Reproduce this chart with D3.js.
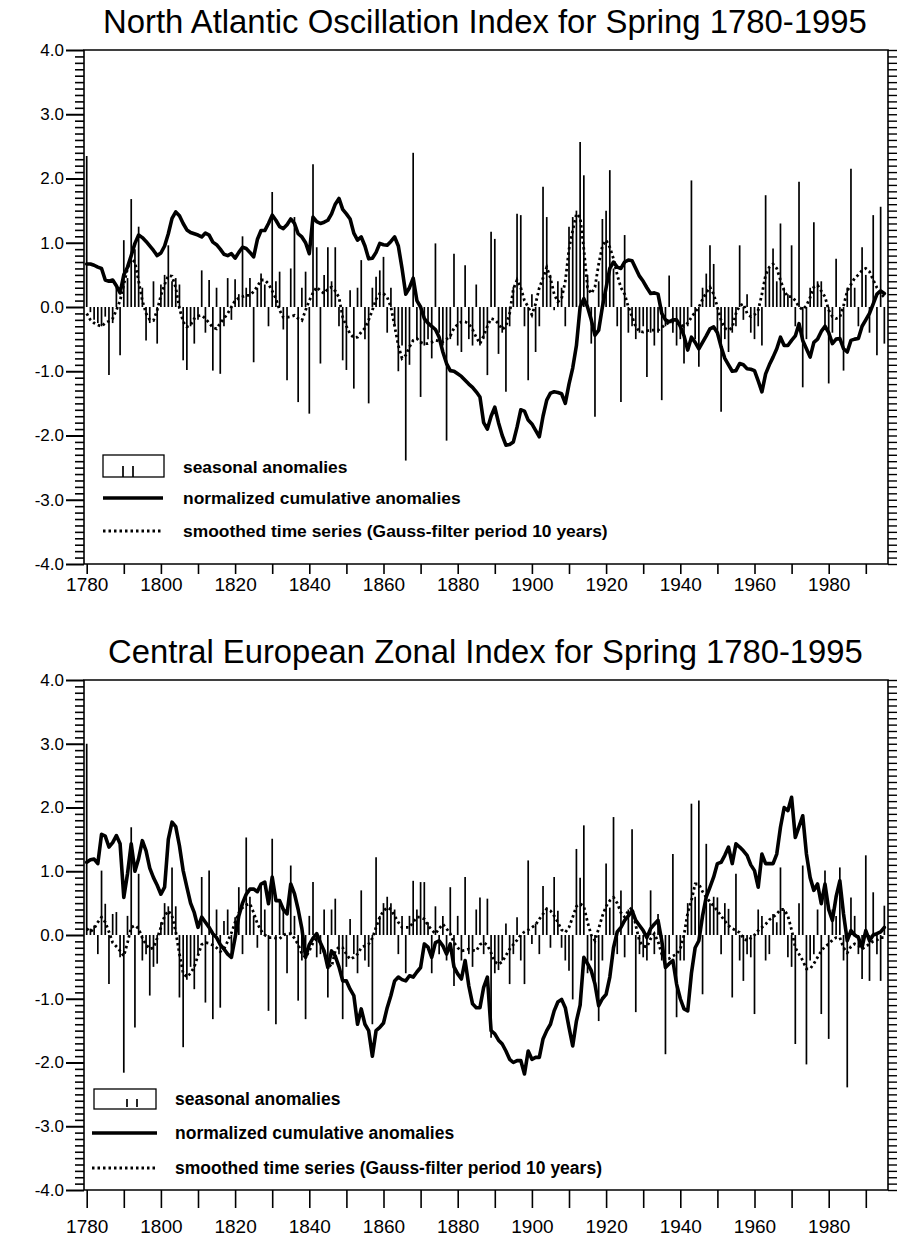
<!DOCTYPE html>
<html><head><meta charset="utf-8">
<script src="https://cdn.jsdelivr.net/npm/d3@7"></script>
<style>
body{margin:0;background:#fff}
svg{display:block}
text{font-family:"Liberation Sans",Arial,sans-serif;fill:#000}
</style>
</head><body>
<svg id="c" width="899" height="1241"></svg>
<script>
// ---------- data ----------
const firstYear = 1780;
const yTickValues = [-4,-3,-2,-1,0,1,2,3,4];
const yTickLabels = ["-4.0","-3.0","-2.0","-1.0","0.0","1.0","2.0","3.0","4.0"];
const xTickYears = [1780,1790,1800,1810,1820,1830,1840,1850,1860,1870,1880,1890,1900,1910,1920,1930,1940,1950,1960,1970,1980,1990];
const xTickLabels = ["1780","1800","1820","1840","1860","1880","1900","1920","1940","1960","1980"];
const legendLabels = ["seasonal anomalies","normalized cumulative anomalies","smoothed time series (Gauss-filter period 10 years)"];
const titleNAO = "North Atlantic Oscillation Index for Spring 1780-1995";
const titleCEZI = "Central European Zonal Index for Spring 1780-1995";

// North Atlantic Oscillation, spring, 1780..1995
const naoAnom = [
 2.35,-0.08,-0.2,-0.25,-0.3,-0.15,-1.06,-0.25,0.3,-0.75,
 1.04,0.45,1.68,0.9,1.25,0.3,-0.52,-0.25,0.4,-0.57,
 0.35,0.5,0.96,0.4,0.45,0.35,-0.83,-0.98,-0.3,-0.57,
 -0.2,0.57,-0.4,0.42,-0.99,0.3,-1.04,-0.3,0.45,-0.2,
 0.43,0.2,1.1,0.3,0.45,-0.86,0.3,0.52,0.35,-0.3,
 1.79,0.4,0.55,-0.35,-1.14,0.6,1.4,-1.48,0.3,0.55,
 -1.66,2.22,0.93,-0.88,0.5,0.93,0.4,0.93,-0.3,-0.83,
 -0.98,0.26,-1.27,0.3,0.73,-0.5,-1.5,0.3,0.47,0.57,
 0.78,-0.4,0.3,-0.3,-1.0,-0.6,-2.39,-0.9,2.4,-0.5,
 -1.4,-0.6,-0.5,-0.8,0.99,-0.4,-0.6,-2.08,-0.5,0.83,
 -0.6,-0.7,0.65,-0.5,-0.6,0.35,-0.6,-0.5,-1.06,1.17,
 1.06,-0.73,-0.4,-1.32,-0.3,0.31,1.45,1.43,-0.3,-1.14,
 0.2,-0.7,-0.3,1.87,1.4,0.5,-0.05,0.4,0.3,-0.3,
 1.25,1.4,1.5,2.57,2.05,0.5,-0.57,-1.71,0.4,1.37,
 1.5,2.13,0.6,-0.3,-1.48,1.12,-0.4,-0.3,-0.5,-0.4,
 -0.3,-1.09,-0.4,-0.6,-0.4,-1.45,-0.3,0.49,-0.4,-0.6,
 -0.5,-0.88,-0.3,1.97,-0.5,-0.93,0.3,0.52,0.96,0.67,
 -0.4,-1.63,-0.5,-0.7,-0.4,-0.3,0.96,-0.2,0.2,-0.4,
 -0.5,-0.3,-0.6,1.74,0.6,0.91,0.4,1.3,0.3,0.2,
 0.96,-0.3,1.95,-1.25,-0.5,0.3,1.32,0.4,0.4,-0.3,
 -1.19,-0.4,0.75,-0.5,-0.99,0.3,2.15,0.3,-0.3,0.93,
 0.5,-0.4,1.43,-0.75,1.56,-0.57];
const naoCum = [
 0.67,0.67,0.65,0.62,0.6,0.42,0.4,0.42,0.33,0.22,
 0.5,0.62,0.8,0.99,1.12,1.08,1.02,0.95,0.88,0.8,
 0.84,0.95,1.14,1.38,1.48,1.42,1.3,1.2,1.16,1.14,
 1.12,1.09,1.15,1.12,1.01,0.97,0.9,0.82,0.8,0.83,
 0.76,0.85,0.93,0.91,0.85,0.78,1.05,1.19,1.19,1.3,
 1.43,1.35,1.25,1.22,1.28,1.37,1.3,1.14,1.09,1.0,
 0.83,1.4,1.33,1.3,1.32,1.35,1.45,1.6,1.69,1.52,
 1.45,1.37,1.15,1.04,1.09,0.95,0.75,0.76,0.85,0.99,
 0.97,0.96,1.02,1.09,0.95,0.6,0.2,0.3,0.45,0.1,
 0.0,-0.18,-0.25,-0.3,-0.35,-0.47,-0.7,-0.88,-0.99,-1.0,
 -1.04,-1.08,-1.14,-1.2,-1.25,-1.32,-1.4,-1.8,-1.9,-1.7,
 -1.56,-1.8,-2.0,-2.15,-2.14,-2.1,-1.87,-1.6,-1.62,-1.76,
 -1.82,-1.92,-2.02,-1.7,-1.45,-1.34,-1.32,-1.33,-1.35,-1.5,
 -1.2,-0.95,-0.6,0.0,0.13,0.0,-0.2,-0.44,-0.36,0.0,
 0.3,0.6,0.7,0.62,0.6,0.7,0.73,0.72,0.6,0.48,
 0.4,0.3,0.21,0.22,0.2,-0.1,-0.2,-0.23,-0.2,-0.2,
 -0.3,-0.45,-0.67,-0.47,-0.55,-0.65,-0.55,-0.45,-0.34,-0.31,
 -0.4,-0.62,-0.8,-0.9,-1.0,-0.99,-0.88,-0.9,-0.96,-0.97,
 -0.99,-1.15,-1.32,-1.04,-0.9,-0.78,-0.65,-0.47,-0.6,-0.6,
 -0.52,-0.45,-0.26,-0.52,-0.65,-0.78,-0.55,-0.5,-0.38,-0.3,
 -0.4,-0.57,-0.5,-0.49,-0.65,-0.7,-0.52,-0.5,-0.49,-0.3,
 -0.2,-0.1,0.05,0.2,0.25,0.21];
const naoSmooth = [
 -0.1,-0.2,-0.25,-0.28,-0.3,-0.25,-0.22,-0.18,-0.05,0.1,
 0.35,0.6,0.75,0.7,0.4,0.1,-0.1,-0.2,-0.21,-0.05,
 0.18,0.35,0.49,0.48,0.3,-0.02,-0.23,-0.31,-0.28,-0.18,
 -0.14,-0.13,-0.18,-0.25,-0.32,-0.34,-0.25,-0.18,-0.1,0.0,
 0.1,0.14,0.16,0.18,0.18,0.24,0.32,0.42,0.42,0.36,
 0.25,0.13,-0.05,-0.16,-0.16,-0.15,-0.13,-0.18,-0.21,-0.05,
 0.1,0.22,0.31,0.25,0.21,0.28,0.31,0.25,0.15,-0.16,
 -0.3,-0.42,-0.48,-0.47,-0.39,-0.33,-0.2,-0.05,0.12,0.21,
 0.21,0.15,0.0,-0.3,-0.6,-0.8,-0.75,-0.62,-0.52,-0.49,
 -0.55,-0.57,-0.57,-0.55,-0.52,-0.53,-0.54,-0.5,-0.45,-0.33,
 -0.27,-0.23,-0.23,-0.26,-0.35,-0.47,-0.57,-0.45,-0.3,-0.18,
 -0.2,-0.26,-0.35,-0.3,-0.1,0.28,0.42,0.3,0.1,0.0,
 -0.12,0.05,0.3,0.45,0.62,0.45,0.2,0.08,0.13,0.4,
 0.9,1.19,1.45,1.4,0.9,0.3,0.21,0.31,0.67,0.95,
 1.04,0.93,0.75,0.5,0.3,0.2,0.0,-0.15,-0.31,-0.38,
 -0.39,-0.37,-0.36,-0.36,-0.36,-0.32,-0.27,-0.24,-0.23,-0.25,
 -0.27,-0.3,-0.25,-0.16,-0.08,0.0,0.12,0.22,0.31,0.2,
 0.0,-0.21,-0.33,-0.36,-0.32,-0.1,0.02,0.05,-0.1,-0.15,
 -0.12,-0.05,0.2,0.5,0.62,0.67,0.6,0.42,0.25,0.16,
 0.16,0.1,0.0,-0.04,0.02,0.15,0.31,0.34,0.25,0.16,
 -0.05,-0.15,-0.18,-0.16,0.02,0.25,0.35,0.45,0.5,0.57,
 0.6,0.55,0.42,0.3,0.21,0.15];

// Central European Zonal Index, spring, 1780..1995
const ceziAnom = [
 3.0,0.1,0.15,-0.3,1.01,0.49,-0.77,0.33,0.36,-0.35,
 -2.16,0.3,1.69,-1.45,0.96,-0.4,-0.3,-0.95,-0.5,-0.45,
 0.2,0.5,0.45,1.06,0.45,-0.98,-1.76,-0.7,-0.5,-0.85,
 -0.3,0.91,-1.06,1.01,-1.32,0.4,-1.14,0.22,0.4,-0.3,
 0.28,0.75,-0.3,1.53,0.6,0.3,-0.2,0.8,0.4,-1.19,
 1.51,-1.4,0.5,0.4,-0.6,1.09,0.3,-1.03,-0.4,-1.32,
 0.3,0.83,-0.35,-0.3,0.4,-0.98,0.4,0.57,-0.3,-1.32,
 -0.5,0.25,-0.3,-0.6,0.7,-0.4,-0.5,-1.4,1.22,0.3,
 0.5,0.6,0.5,0.4,-0.3,0.3,-0.6,0.3,0.85,0.4,
 0.83,0.83,0.2,-0.6,0.45,-0.3,0.3,-0.4,0.75,-0.8,
 0.3,-0.4,0.91,-0.3,-0.5,0.4,0.59,-0.3,0.57,-1.61,
 -0.6,-0.55,-0.4,0.18,-0.77,-0.3,0.28,-0.4,-0.77,1.17,
 -0.14,0.18,-0.3,0.77,0.43,-0.2,0.91,0.38,-0.2,-0.4,
 -0.56,-1.01,1.35,0.9,1.72,-0.6,-0.4,-0.82,-1.35,-0.4,
 1.12,0.43,1.85,-0.3,0.7,-0.35,0.4,1.66,-1.21,-0.3,
 -0.35,-0.4,0.7,-0.3,0.33,-0.4,-1.87,-0.3,1.27,-1.29,
 -0.4,-0.4,0.5,2.06,0.6,2.11,-0.93,1.43,0.5,0.6,
 0.59,-0.3,0.5,0.41,-0.98,0.96,-0.4,-0.72,-0.3,-0.35,
 -1.24,0.4,0.3,-0.4,-0.3,0.33,0.2,1.06,0.4,-0.35,
 -0.5,-1.71,0.5,1.09,-2.03,-0.4,-0.3,0.4,-1.24,1.01,
 -1.63,0.4,0.3,1.06,-0.4,-2.39,0.59,0.3,-0.3,-0.69,
 1.25,-0.72,0.67,-0.3,-0.72,0.46];
const ceziCum = [
 1.14,1.18,1.19,1.12,1.58,1.55,1.38,1.45,1.56,1.43,
 0.59,0.96,1.43,1.0,1.2,1.48,1.32,1.05,0.9,0.78,
 0.64,0.75,1.5,1.77,1.7,1.4,1.01,0.75,0.5,0.35,
 0.12,0.28,0.2,0.12,0.02,-0.04,-0.15,-0.22,-0.3,-0.35,
 -0.04,0.3,0.5,0.64,0.72,0.72,0.68,0.8,0.83,0.49,
 0.91,0.54,0.54,0.4,0.33,0.8,0.65,0.4,0.1,-0.35,
 -0.15,-0.05,0.02,-0.12,-0.25,-0.51,-0.25,-0.33,-0.5,-0.72,
 -0.72,-0.85,-0.95,-1.4,-1.16,-1.4,-1.5,-1.9,-1.5,-1.45,
 -1.38,-1.14,-0.95,-0.72,-0.66,-0.7,-0.72,-0.64,-0.66,-0.58,
 -0.51,-0.14,-0.19,-0.35,-0.12,-0.09,-0.17,-0.3,-0.14,-0.5,
 -0.61,-0.69,-0.4,-0.8,-1.08,-1.14,-1.14,-0.82,-0.66,-1.5,
 -1.55,-1.65,-1.71,-1.82,-1.95,-2.0,-1.97,-1.97,-2.18,-1.82,
 -1.95,-1.92,-1.92,-1.63,-1.5,-1.4,-1.19,-1.05,-1.01,-1.14,
 -1.45,-1.74,-1.35,-1.1,-0.35,-0.45,-0.56,-0.77,-1.11,-1.0,
 -0.93,-0.66,-0.2,0.05,0.12,0.23,0.3,0.38,0.23,0.15,
 0.07,-0.04,0.1,0.17,0.23,-0.09,-0.51,-0.45,-0.4,-0.77,
 -1.0,-1.16,-1.19,-0.6,-0.2,-0.09,0.3,0.6,0.75,0.91,
 1.12,1.14,1.25,1.38,1.12,1.43,1.38,1.32,1.25,1.1,
 1.01,0.75,1.27,1.12,1.12,1.12,1.27,1.69,2.0,1.95,
 2.16,1.53,1.7,1.87,1.27,0.9,0.7,0.8,0.49,0.8,
 0.4,0.23,0.6,0.85,0.33,-0.09,0.07,0.0,-0.04,-0.19,
 0.07,-0.09,0.0,0.02,0.05,0.12];
const ceziSmooth = [
 0.1,0.05,0.1,0.2,0.28,0.2,0.05,-0.12,-0.18,-0.25,
 -0.33,-0.12,0.12,0.15,0.1,-0.05,-0.15,-0.22,-0.2,-0.05,
 0.12,0.3,0.38,0.3,0.05,-0.3,-0.6,-0.66,-0.6,-0.5,
 -0.32,-0.15,-0.12,-0.13,-0.16,-0.2,-0.26,-0.22,-0.1,0.03,
 0.2,0.35,0.43,0.47,0.49,0.35,0.18,0.07,0.0,-0.04,
 -0.04,-0.05,-0.06,0.0,0.02,0.02,-0.05,-0.15,-0.3,-0.35,
 -0.25,-0.12,-0.05,-0.12,-0.28,-0.45,-0.5,-0.25,-0.19,-0.2,
 -0.3,-0.38,-0.35,-0.3,-0.2,-0.17,-0.14,-0.05,0.12,0.28,
 0.38,0.43,0.4,0.3,0.2,0.12,0.12,0.12,0.2,0.28,
 0.28,0.25,0.15,0.08,0.02,0.1,0.17,0.1,0.02,-0.12,
 -0.2,-0.25,-0.24,-0.22,-0.24,-0.25,-0.15,-0.12,-0.16,-0.28,
 -0.42,-0.46,-0.42,-0.32,-0.22,-0.15,-0.08,0.0,0.05,0.08,
 0.12,0.16,0.25,0.33,0.41,0.38,0.3,0.2,0.08,0.04,
 0.12,0.28,0.45,0.49,0.45,0.2,0.0,-0.09,0.1,0.3,
 0.45,0.54,0.59,0.5,0.35,0.28,0.38,0.43,0.15,-0.1,
 -0.17,-0.19,-0.06,0.02,-0.1,-0.3,-0.38,-0.37,-0.33,-0.3,
 -0.22,0.0,0.35,0.54,0.8,0.8,0.68,0.59,0.52,0.45,
 0.38,0.3,0.22,0.15,0.1,0.07,0.04,-0.05,-0.09,-0.05,
 0.0,0.07,0.12,0.17,0.24,0.28,0.33,0.4,0.4,0.3,
 0.08,-0.2,-0.3,-0.4,-0.53,-0.53,-0.45,-0.35,-0.25,-0.18,
 -0.14,-0.08,-0.04,-0.04,-0.2,-0.28,-0.18,-0.14,-0.16,-0.22,
 -0.18,-0.14,-0.1,-0.08,-0.04,-0.04];

// ---------- drawing ----------
const svg = d3.select("#c");
const FRAME_L = 84, FRAME_R = 888;

function fitText(sel, targetWidth, baseSize) {
  sel.attr("font-size", baseSize);
  const w = sel.node().getComputedTextLength();
  sel.attr("font-size", baseSize * targetWidth / w);
}

function drawPanel(p) {
  const g = svg.append("g");
  const x = d3.scaleLinear().domain([1780, 1980]).range([86.7, 828.7]);
  const y = d3.scaleLinear().domain([-4, 4]).range([p.bottom, p.top]);
  const yr = i => firstYear + i;

  // title
  const t = g.append("text").attr("x", p.titleX0).attr("y", p.titleY).text(p.title);
  fitText(t, p.titleX1 - p.titleX0, 24);

  // frame
  g.append("path")
    .attr("d", `M${FRAME_L},${p.bottom}V${p.top}H${FRAME_R}V${p.bottom}H${FRAME_L}`)
    .attr("fill", "none").attr("stroke", "#000").attr("stroke-width", 1.6);

  // left axis: minor + major
  const minor = d3.range(-40, 41).filter(i => i % 10 !== 0).map(i => i / 10);
  const allT = d3.range(-40, 41).map(i => i / 10);
  const la = g.append("g").attr("transform", `translate(${FRAME_L},0)`)
    .call(d3.axisLeft(y).tickValues(minor).tickSize(9).tickFormat("").tickSizeOuter(0));
  la.select(".domain").remove();
  la.selectAll("line").attr("stroke-width", 1.6);
  const lb = g.append("g").attr("transform", `translate(${FRAME_L},0)`)
    .call(d3.axisLeft(y).tickValues(yTickValues).tickSize(18).tickPadding(2)
      .tickFormat((d, i) => yTickLabels[i]).tickSizeOuter(0));
  lb.select(".domain").remove();
  lb.selectAll("line").attr("stroke-width", 2);
  lb.selectAll("text").attr("font-family", '"Liberation Sans",Arial,sans-serif')
    .attr("font-size", 17).attr("fill", "#000");

  // right axis
  const ra = g.append("g").attr("transform", `translate(${FRAME_R},0)`)
    .call(d3.axisRight(y).tickValues(allT).tickSize(9).tickFormat("").tickSizeOuter(0));
  ra.select(".domain").remove();
  ra.selectAll("line").attr("stroke-width", 1.4);

  // bottom axis
  const ba = g.append("g").attr("transform", `translate(0,${p.bottom})`)
    .call(d3.axisBottom(x).tickValues(xTickYears).tickSize(p.xTick).tickPadding(p.xPad)
      .tickFormat(d => xTickLabels.includes(String(d)) ? String(d) : "").tickSizeOuter(0));
  ba.select(".domain").remove();
  ba.selectAll("line").attr("stroke-width", 1.6);
  ba.selectAll("text").attr("font-family", '"Liberation Sans",Arial,sans-serif')
    .attr("font-size", 19).attr("fill", "#000");

  // seasonal anomaly bars
  g.append("g").selectAll("line").data(p.anom).join("line")
    .attr("x1", (d, i) => x(yr(i))).attr("x2", (d, i) => x(yr(i)))
    .attr("y1", y(0)).attr("y2", d => y(d))
    .attr("stroke", "#000").attr("stroke-width", 1.7);

  // smoothed series (dotted)
  g.append("path").datum(p.smooth)
    .attr("d", d3.line().x((d, i) => x(yr(i))).y(d => y(d)))
    .attr("fill", "none").attr("stroke", "#000").attr("stroke-width", 2.8)
    .attr("stroke-dasharray", "2.5,3");

  // cumulative anomalies (thick)
  g.append("path").datum(p.cum)
    .attr("d", d3.line().x((d, i) => x(yr(i))).y(d => y(d)))
    .attr("fill", "none").attr("stroke", "#000").attr("stroke-width", 3.6)
    .attr("stroke-linejoin", "round").attr("stroke-linecap", "round");

  // legend
  const L = p.legend;
  g.append("rect").attr("x", L.boxX).attr("y", L.boxY).attr("width", L.boxW).attr("height", L.boxH)
    .attr("fill", "#fff").attr("stroke", "#000").attr("stroke-width", 1.3);
  L.barXs.forEach(bx => g.append("line").attr("x1", bx).attr("x2", bx)
    .attr("y1", L.barY0).attr("y2", L.barY1).attr("stroke", "#000").attr("stroke-width", 1.7));
  g.append("line").attr("x1", L.sx0).attr("x2", L.sx1).attr("y1", L.rows[1]).attr("y2", L.rows[1])
    .attr("stroke", "#000").attr("stroke-width", 3.6);
  g.append("line").attr("x1", L.sx0).attr("x2", L.sx1).attr("y1", L.rows[2]).attr("y2", L.rows[2])
    .attr("stroke", "#000").attr("stroke-width", 2.8).attr("stroke-dasharray", "2.5,3");
  const texts = legendLabels.map((s, i) => g.append("text").attr("x", L.textX).attr("y", L.rows[i])
    .attr("dominant-baseline", "central").attr("font-weight", "bold").text(s));
  fitText(texts[2], L.textW, 14);
  const fs = +texts[2].attr("font-size");
  texts.forEach(tt => tt.attr("font-size", fs));
}

drawPanel({
  title: titleNAO, titleX0: 103, titleX1: 867, titleY: 33,
  top: 50, bottom: 564, xTick: 10, xPad: 4,
  anom: naoAnom, cum: naoCum, smooth: naoSmooth,
  legend: {boxX: 103, boxY: 455, boxW: 61, boxH: 22, barXs: [123, 133], barY0: 466, barY1: 477,
           sx0: 103, sx1: 163, rows: [467, 498, 531], textX: 183, textW: 425}
});
drawPanel({
  title: titleCEZI, titleX0: 108, titleX1: 863, titleY: 663,
  top: 680, bottom: 1190, xTick: 18, xPad: 12,
  anom: ceziAnom, cum: ceziCum, smooth: ceziSmooth,
  legend: {boxX: 94, boxY: 1089, boxW: 62, boxH: 20, barXs: [127, 137], barY0: 1099, barY1: 1107,
           sx0: 92, sx1: 157, rows: [1099, 1133, 1168], textX: 175, textW: 427}
});
</script>
</body></html>
